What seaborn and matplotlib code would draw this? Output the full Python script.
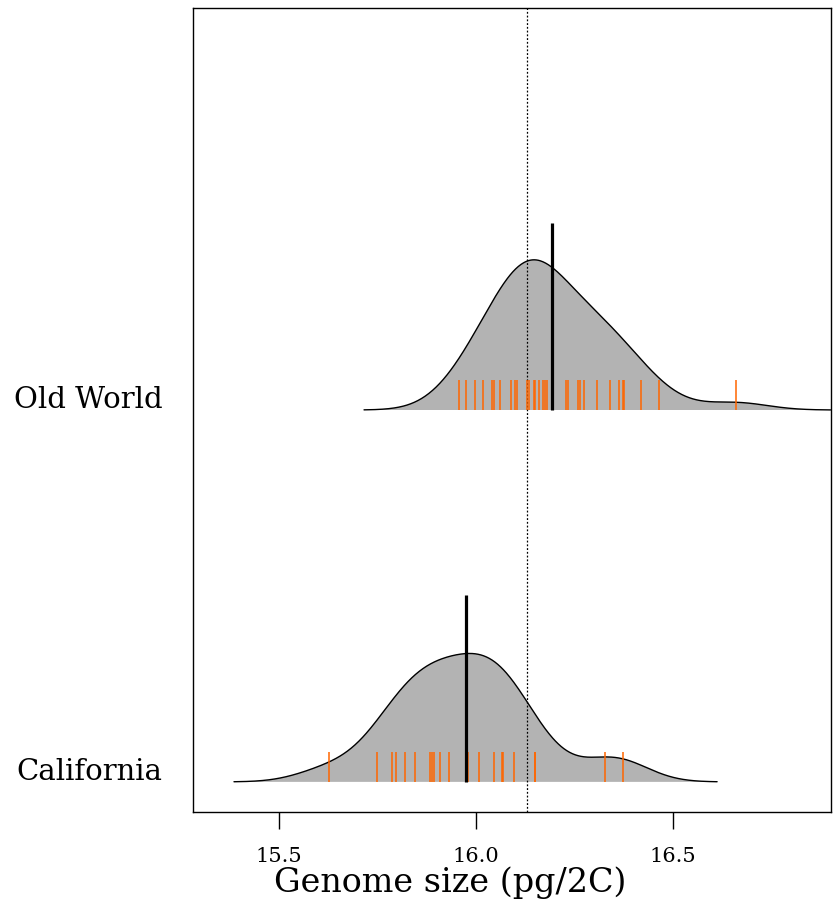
import numpy as np
import pandas as pd
import matplotlib
matplotlib.use("Agg")
import matplotlib.pyplot as plt
import matplotlib.transforms as mtransforms
import seaborn as sns

# ---- data (repeated values = overlapping rug ticks) ----
groups = ["California", "Old World"]
old_world = [15.957, 15.976, 15.999, 16.018, 16.042, 16.046, 16.061, 16.061,
             16.091, 16.091, 16.101, 16.106, 16.131, 16.135, 16.135, 16.148,
             16.148, 16.151, 16.162, 16.162, 16.171, 16.175, 16.175, 16.181,
             16.230, 16.235, 16.259, 16.264, 16.264, 16.274, 16.274, 16.308,
             16.341, 16.341, 16.363, 16.373, 16.377, 16.420, 16.465, 16.661]
california = [15.627, 15.751, 15.788, 15.797, 15.822, 15.847, 15.885, 15.889,
              15.895, 15.911, 15.932, 15.980, 15.980, 16.010, 16.010, 16.046,
              16.046, 16.066, 16.069, 16.097, 16.150, 16.152, 16.329, 16.373]
group_means = [15.977, 16.193]
overall_ref = 16.13
xticks = [15.5, 16.0, 16.5]
xtick_labels = ["15.5", "16.0", "16.5"]
bandwidth = 0.08

sns.set_theme(style="white")
plt.rcParams["font.family"] = ["DejaVu Serif"]
plt.rcParams["text.color"] = "black"
plt.rcParams["axes.labelcolor"] = "black"
plt.rcParams["xtick.color"] = "black"
plt.rcParams["ytick.color"] = "black"

fig = plt.figure(figsize=(8.33, 9.05), dpi=100)
ax = fig.add_axes([193 / 833, (905 - 812) / 905, (831 - 193) / 833, (812 - 8) / 905])

datasets = [california, old_world]
baselines = [0.0, 1.0]
density_scale = 0.157  # axis units per density unit (same for both groups)

for data, base, m in zip(datasets, baselines, group_means):
    arr = np.asarray(data)
    bw = bandwidth / arr.std(ddof=1)
    trans = mtransforms.Affine2D().scale(1, density_scale).translate(0, base) + ax.transData
    n_coll = len(ax.collections)
    sns.kdeplot(x=arr, bw_method=bw, cut=3, gridsize=512, fill=True,
                color="#b3b3b3", alpha=1, linewidth=0, edgecolor="none", ax=ax)
    for c in ax.collections[n_coll:]:
        c.set_transform(trans)
        c.set_facecolor("#b3b3b3")
    n_lines = len(ax.lines)
    sns.kdeplot(x=arr, bw_method=bw, cut=3, gridsize=512, color="black",
                linewidth=1.0, ax=ax)
    for ln in ax.lines[n_lines:]:
        ln.set_transform(trans)
    ax.vlines(np.unique(arr), base, base + 0.08, color="#ff6600", linewidth=1.1, zorder=3)
    ax.vlines([m], base, base + 0.503, color="black", linewidth=2.3, zorder=4)

ax.axvline(overall_ref, color="black", linestyle=(0, (1.5, 1.5)), linewidth=0.9, zorder=1)

ax.set_xlim(15.283, 16.902)
ax.set_ylim(-0.081, 2.081)
ax.set_xticks(xticks)
ax.set_xticklabels(xtick_labels, fontsize=15)
ax.set_yticks([b + 0.035 for b in baselines])
ax.set_yticklabels(groups, fontsize=21)
ax.set_ylabel("")
ax.set_xlabel("Genome size (pg/2C)", fontsize=24)
ax.xaxis.set_label_coords((450 - 193) / 638, -0.068)
ax.tick_params(axis="y", length=0, pad=22)
ax.tick_params(axis="x", length=12, width=1.0, pad=13, direction="out",
               color="black", bottom=True)
for sp in ax.spines.values():
    sp.set_color("black")
    sp.set_linewidth(1.0)
    sp.set_visible(True)
ax.grid(False)

fig.savefig("out.png", dpi=100)
